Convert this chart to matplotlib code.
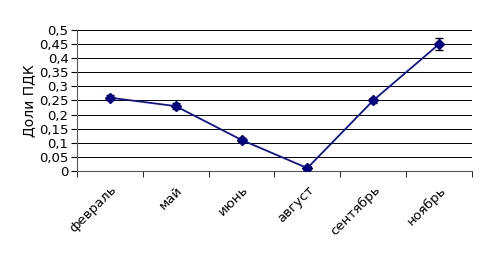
import matplotlib.pyplot as plt
import numpy as np
from matplotlib.ticker import FuncFormatter, FixedLocator

months = ['февраль', 'май', 'июнь', 'август', 'сентябрь', 'ноябрь']
values = [0.26, 0.23, 0.11, 0.01, 0.25, 0.45]
errors = [0.01, 0.01, 0.006, 0.006, 0.01, 0.022]
y_ticks = [0, 0.05, 0.1, 0.15, 0.2, 0.25, 0.3, 0.35, 0.4, 0.45, 0.5]

fig = plt.figure(figsize=(4.87, 2.57), dpi=100)
ax = fig.add_axes([0.158, 0.335, 0.811, 0.548])

x = np.arange(len(months))
ax.errorbar(x, values, yerr=errors, color='#1010A0', lw=1.3, marker='D',
            markersize=5, markerfacecolor='#000080', markeredgecolor='#000080',
            ecolor='black', elinewidth=1, capsize=3, capthick=1, zorder=3)

ax.set_xlim(-0.5, len(months) - 0.5)
ax.set_ylim(0, 0.5)
ax.set_yticks(y_ticks)
ax.yaxis.set_major_formatter(FuncFormatter(lambda v, p: ('%g' % round(v, 2)).replace('.', ',')))
ax.yaxis.grid(True, color='black', lw=0.7)
ax.set_axisbelow(True)

ax.set_xticks(x)
ax.set_xticklabels(months, rotation=45, ha='right', rotation_mode='anchor', fontsize=9.5)
ax.tick_params(axis='x', which='major', length=0, pad=9)
ax.xaxis.set_minor_locator(FixedLocator(np.arange(-0.5, len(months), 1)))
ax.tick_params(axis='x', which='minor', length=4, color='black')
ax.tick_params(axis='y', labelsize=9.5, length=4, pad=2)

for s in ['top', 'right']:
    ax.spines[s].set_visible(False)
ax.spines['left'].set_color('#555555')
ax.spines['bottom'].set_color('#555555')

ax.set_ylabel('Доли ПДК', fontsize=10, labelpad=2)

fig.savefig('out.png', dpi=100)
